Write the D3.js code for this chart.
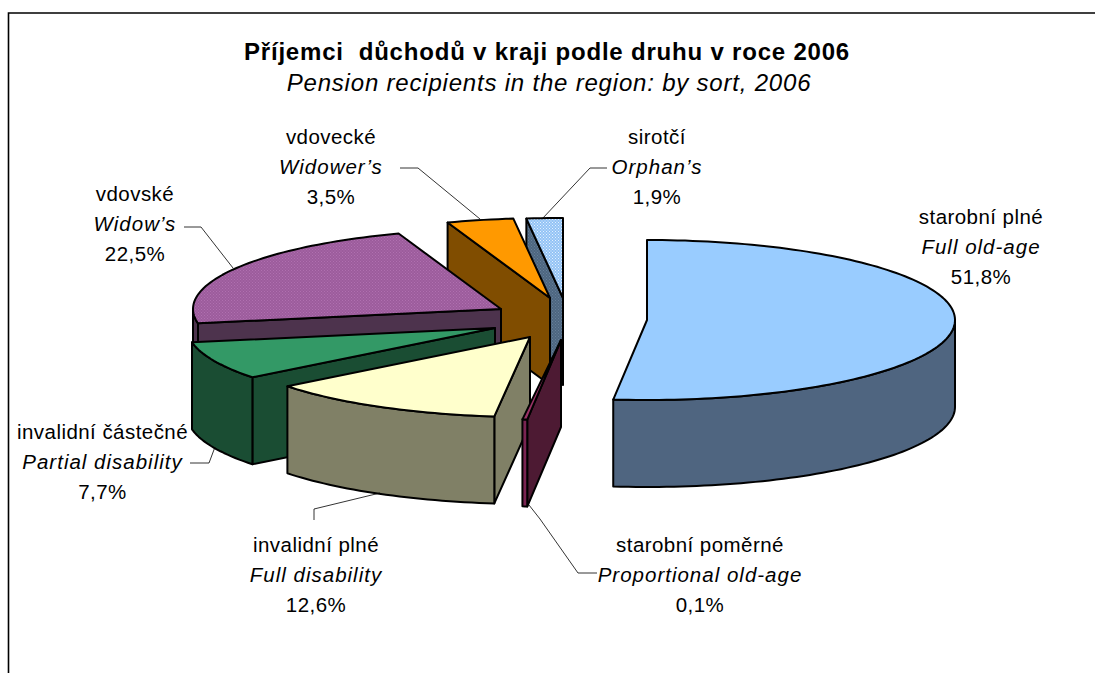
<!DOCTYPE html>
<html>
<head>
<meta charset="utf-8">
<script src="https://d3js.org/d3.v7.min.js"></script>
<style>
  html, body { margin: 0; padding: 0; background: #ffffff; }
  svg { display: block; }
  text { font-family: "Liberation Sans", Arial, sans-serif; fill: #000000; white-space: pre; }
</style>
</head>
<body>
<div id="chart"></div>
<script>
// Slices, clockwise from 12 o'clock
const labelsCz = ["starobní plné", "starobní poměrné", "invalidní plné", "invalidní částečné", "vdovské", "vdovecké", "sirotčí"];
const labelsEn = ["Full old-age", "Proportional old-age", "Full disability", "Partial disability", "Widow\u2019s", "Widower\u2019s", "Orphan\u2019s"];
const shares = [51.8, 0.1, 12.6, 7.7, 22.5, 3.5, 1.9];
const shareText = ["51,8%", "0,1%", "12,6%", "7,7%", "22,5%", "3,5%", "1,9%"];

const titleCz = "Příjemci  důchodů v kraji podle druhu v roce 2006";
const titleEn = "Pension recipients in the region: by sort, 2006";

const width = 1095, height = 673;

// Ellipse of the pie and height of its wall
const rx = 308, ry = 80, depth = 87;
const minSliceAngle = 0.9 * Math.PI / 180; // keeps the 0,1 % sliver visible

// Where each exploded slice has its tip
const sliceCentres = [[647, 320], [561, 340], [530, 337], [495, 328], [501, 309], [550, 298], [563, 298]];
const topFills = ["#99ccff", "#993366", "#ffffcc", "#339966", "url(#dotsPurple)", "#ff9900", "url(#dotsBlue)"];
const wallFills = ["#4f6580", "#4d1a33", "#808066", "#1a4d33", "#4d334d", "#804d00", "url(#dotsGrey)"];
const rimFills = ["#4f6580", "#7a2452", "#808066", "#1a4d33", "#4d334d", "#804d00", "#4d6680"];
const drawOrder = [6, 5, 4, 3, 2, 1, 0]; // back to front

// Text blocks: centre x and the baseline of the first line
const labelSpots = [[981, 224], [700, 552], [316, 552], [102.5, 439], [135, 201], [331, 144], [657, 144]];
const lineGap = 29.8;

// Leader lines from the labels to the slices
const leaders = [
    null,
    [[597, 573], [578, 573], [540, 519], [529, 505]],
    [[314, 520], [314, 509], [380, 493]],
    [[190, 463], [209, 463], [215, 447]],
    [[184, 227], [201, 227], [233, 268]],
    [[400, 168], [418, 168], [480, 219]],
    [[607, 168], [590, 168], [542, 219]]
];

const svg = d3.select("#chart")
    .append("svg")
    .attr("width", width)
    .attr("height", height);

// Fine dither patterns for the two textured slices
const defs = svg.append("defs");
function addDots(id, base, dot) {
    const p = defs.append("pattern")
        .attr("id", id)
        .attr("patternUnits", "userSpaceOnUse")
        .attr("width", 3)
        .attr("height", 3);
    p.append("rect").attr("width", 3).attr("height", 3).attr("fill", base);
    p.append("rect").attr("x", 0).attr("y", 0).attr("width", 1).attr("height", 1).attr("fill", dot);
    p.append("rect").attr("x", 1.5).attr("y", 1.5).attr("width", 1).attr("height", 1).attr("fill", dot);
}
addDots("dotsPurple", "#9c5c9c", "#b070b0");
addDots("dotsBlue", "#93c3f5", "#e2f0ff");
addDots("dotsGrey", "#4d6680", "#667f99");

// Chart frame: top and left edges only reach the picture
svg.append("path")
    .attr("d", d3.line()([[8.5, height], [8.5, 13], [width, 13]]))
    .attr("fill", "none")
    .attr("stroke", "#000000")
    .attr("stroke-width", 1.6);

// Title
svg.append("text")
    .attr("x", 547)
    .attr("y", 60)
    .attr("text-anchor", "middle")
    .attr("font-size", 24)
    .attr("letter-spacing", 0.8)
    .attr("font-weight", "bold")
    .text(titleCz);
svg.append("text")
    .attr("x", 549)
    .attr("y", 91)
    .attr("text-anchor", "middle")
    .attr("font-size", 24)
    .attr("letter-spacing", 0.8)
    .attr("font-style", "italic")
    .text(titleEn);

// Pie angles
const arcs = d3.pie().sort(null).value(d => d)(shares);

function rimPoint(i, a, drop = 0) {
    const [cx, cy] = sliceCentres[i];
    return [cx + rx * Math.sin(a), cy - ry * Math.cos(a) + drop];
}

// Points along the rim between two angles
function rimPoints(i, a0, a1, drop = 0) {
    const n = Math.max(2, Math.ceil((a1 - a0) * 40));
    return d3.range(n + 1).map(k => rimPoint(i, a0 + (a1 - a0) * k / n, drop));
}

const line = d3.line();
const closed = pts => line(pts) + "Z";

const pieG = svg.append("g")
    .attr("stroke", "#000000")
    .attr("stroke-width", 2)
    .attr("stroke-linejoin", "round");

drawOrder.forEach(i => {
    const a0 = arcs[i].startAngle;
    const a1 = Math.max(arcs[i].endAngle, a0 + minSliceAngle);
    const c = sliceCentres[i];
    const tipLow = [c[0], c[1] + depth];

    // Cut face that looks toward the viewer
    if (Math.sin(a0) < 0) {
        pieG.append("path")
            .attr("d", closed([c, rimPoint(i, a0), rimPoint(i, a0, depth), tipLow]))
            .attr("fill", wallFills[i]);
    }

    // Outer wall, only on the near half of the ellipse
    const w0 = Math.max(a0, Math.PI / 2);
    const w1 = Math.min(a1, 3 * Math.PI / 2);
    if (w1 > w0) {
        const upper = rimPoints(i, w0, w1);
        const lower = rimPoints(i, w0, w1, depth).reverse();
        pieG.append("path")
            .attr("d", closed(upper.concat(lower)))
            .attr("fill", rimFills[i]);
    }

    // Top face
    pieG.append("path")
        .attr("d", closed([c].concat(rimPoints(i, a0, a1))))
        .attr("fill", topFills[i]);
});

// Leaders
svg.append("g")
    .selectAll("path")
    .data(leaders.filter(d => d))
    .join("path")
    .attr("d", d => line(d))
    .attr("fill", "none")
    .attr("stroke", "#000000")
    .attr("stroke-width", 0.8);

// Labels
const labelG = svg.append("g")
    .attr("font-size", 20.5)
    .attr("text-anchor", "middle");
labelsCz.forEach((name, i) => {
    const [x, y] = labelSpots[i];
    labelG.append("text").attr("x", x).attr("y", y).attr("letter-spacing", 0.45).text(name);
    labelG.append("text").attr("x", x).attr("y", y + lineGap).attr("font-style", "italic").attr("letter-spacing", 1).text(labelsEn[i]);
    labelG.append("text").attr("x", x).attr("y", y + 2 * lineGap).attr("letter-spacing", 0.45).text(shareText[i]);
});
</script>
</body>
</html>
